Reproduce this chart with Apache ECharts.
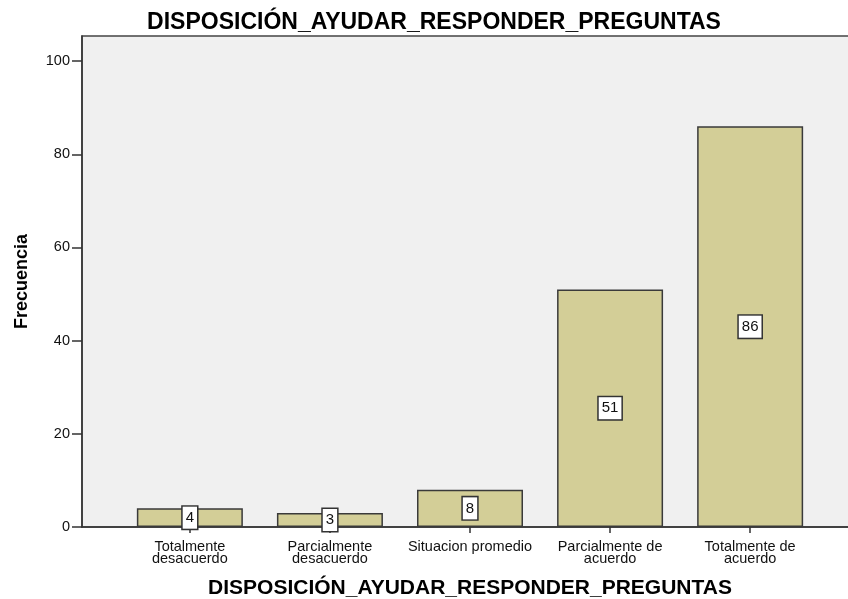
<!DOCTYPE html>
<html>
<head>
<meta charset="utf-8">
<script src="https://cdn.jsdelivr.net/npm/echarts@6/dist/echarts.min.js"></script>
<style>
  html, body { margin: 0; padding: 0; background: #fff; }
  #main { width: 848px; height: 599px; }
</style>
</head>
<body>
<div id="main"></div>
<script>
var titleText = 'DISPOSICIÓN_AYUDAR_RESPONDER_PREGUNTAS';
var categories = ['Totalmente\ndesacuerdo', 'Parcialmente\ndesacuerdo', 'Situacion promedio', 'Parcialmente de\nacuerdo', 'Totalmente de\nacuerdo'];
var frecuencias = [4, 3, 8, 51, 86];
var yTicks = [0, 20, 40, 60, 80, 100];
var catPositions = [0, 1, 2, 3, 4];

var font = 'Arial, "Liberation Sans", sans-serif';

function buildOption() {
    return {
        animation: false,
        backgroundColor: '#ffffff',
        title: {
            text: titleText,
            left: 429,
            textAlign: 'center',
            top: 6,
            textStyle: { fontFamily: font, fontSize: 23, fontWeight: 'bold', color: '#000' }
        },
        grid: {
            left: 82,
            width: 776,
            top: 36,
            bottom: 72,
            outerBoundsMode: 'none',
            containLabel: false,
            show: true,
            backgroundColor: '#f0f0f0',
            borderColor: '#444',
            borderWidth: 1.5
        },
        xAxis: {
            type: 'value',
            min: -0.77,
            max: 4.77,
            name: titleText,
            nameLocation: 'middle',
            nameGap: 51,
            nameTextStyle: { fontFamily: font, fontSize: 21, fontWeight: 'bold', color: '#000' },
            splitLine: { show: false },
            axisLine: { show: true, onZero: false, lineStyle: { color: '#333', width: 1.5 } },
            axisTick: { show: true, customValues: catPositions, length: 6, lineStyle: { color: '#333', width: 1.5 } },
            axisLabel: {
                customValues: catPositions,
                formatter: function (v) { return categories[Math.round(v)]; },
                fontFamily: font,
                fontSize: 14.5,
                lineHeight: 12,
                color: '#111',
                margin: 14
            }
        },
        yAxis: {
            type: 'value',
            min: 0,
            max: 105.4,
            name: 'Frecuencia',
            nameLocation: 'middle',
            nameGap: 51,
            nameTextStyle: { fontFamily: font, fontSize: 18, fontWeight: 'bold', color: '#000' },
            splitLine: { show: false },
            axisLine: { show: true, onZero: false, lineStyle: { color: '#333', width: 1.5 } },
            axisTick: { show: true, customValues: yTicks, length: 10, lineStyle: { color: '#333', width: 1.5 } },
            axisLabel: {
                customValues: yTicks,
                fontFamily: font,
                fontSize: 14.5,
                color: '#111',
                margin: 12
            }
        },
        series: [{
            type: 'bar',
            data: frecuencias.map(function (v, i) { return [catPositions[i], v]; }),
            barWidth: 106,
            itemStyle: { color: '#d3ce97', borderColor: '#3a3a3a', borderWidth: 1.5 },
            label: {
                show: true,
                position: 'inside',
                formatter: function (p) { return p.value[1]; },
                fontFamily: font,
                fontSize: 15,
                color: '#111',
                backgroundColor: '#ffffff',
                borderColor: '#333',
                borderWidth: 1.5,
                padding: [4, 3, 3, 3]
            }
        }]
    };
}

var chart = echarts.init(document.getElementById('main'));
chart.setOption(buildOption());
</script>
</body>
</html>
